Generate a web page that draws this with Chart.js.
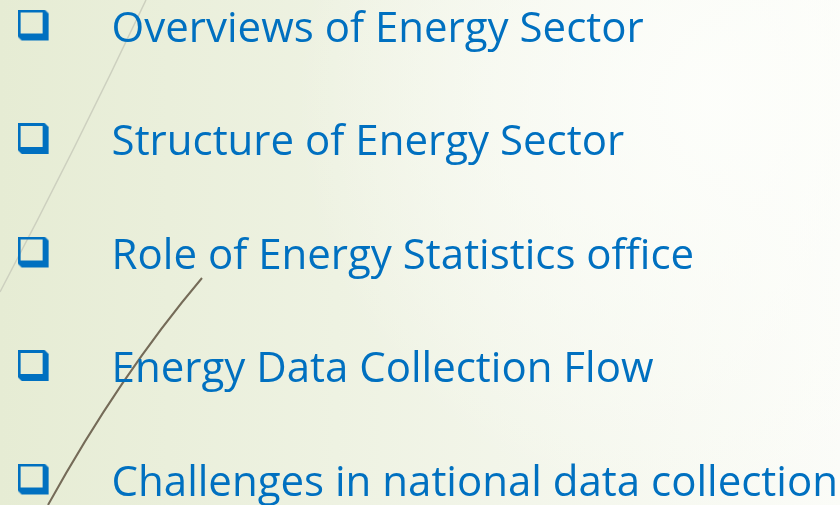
<!DOCTYPE html>
<html lang="en">
<head>
    <meta charset="UTF-8">
    <title>energy topics</title>
    <style>
        html, body {
            margin: 0;
            padding: 0;
            background: #f4f7ec;
        }
        #wrap {
            width: 840px;
            height: 505px;
        }
    </style>
</head>
<body>
    <div id="wrap">
        <canvas id="myChart" width="840" height="505"></canvas>
    </div>

    <script src="https://cdn.jsdelivr.net/npm/chart.js"></script>
    <script>
        // slide items (top to bottom)
        let topics = [
            'Overviews of Energy Sector',
            'Structure of Energy Sector',
            'Role of Energy Statistics office',
            'Energy Data Collection Flow',
            'Challenges in national data collection'
        ];
        // indent level of every bullet
        let level = [1, 1, 1, 1, 1];

        let blue = '#0070c0';

        // the 3D checkbox bullet
        let box = document.createElement('canvas');
        box.width = 32;
        box.height = 32;
        let b = box.getContext('2d');
        b.fillStyle = blue;
        b.beginPath();
        b.moveTo(0, 0);
        b.lineTo(27, 0);
        b.lineTo(31, 4);
        b.lineTo(31, 31);
        b.lineTo(4, 31);
        b.lineTo(0, 27);
        b.closePath();
        b.rect(3, 3, 22, 21);
        b.fill('evenodd');

        // background and the two thin swooshes
        let slideBg = {
            id: 'slideBg',
            beforeDraw(chart) {
                let c = chart.ctx;
                let w = chart.width, h = chart.height;
                c.save();
                let g = c.createLinearGradient(0, 0, w, 0);
                g.addColorStop(0, '#e6ecd4');
                g.addColorStop(0.4, '#eef2e2');
                g.addColorStop(1, '#fbfcf8');
                c.fillStyle = g;
                c.fillRect(0, 0, w, h);

                let r = c.createRadialGradient(w * 0.85, h * 0.2, 10, w * 0.85, h * 0.2, w * 0.5);
                r.addColorStop(0, 'rgba(253,254,251,0.9)');
                r.addColorStop(1, 'rgba(253,254,251,0)');
                c.fillStyle = r;
                c.fillRect(0, 0, w, h);

                c.strokeStyle = '#cdd0bf';
                c.lineWidth = 1.5;
                c.beginPath();
                c.moveTo(146, 0);
                c.quadraticCurveTo(75, 150, 0, 292);
                c.stroke();

                c.strokeStyle = '#756b58';
                c.lineWidth = 2;
                c.beginPath();
                c.moveTo(202, 278);
                c.quadraticCurveTo(120, 375, 48, 505);
                c.stroke();
                c.restore();
            }
        };

        // text next to each bullet
        let itemText = {
            id: 'itemText',
            afterDatasetsDraw(chart) {
                let c = chart.ctx;
                let pts = chart.getDatasetMeta(0).data;
                c.save();
                c.fillStyle = blue;
                c.font = '42px "Open Sans"';
                c.textAlign = 'left';
                c.textBaseline = 'alphabetic';
                for (let i = 0; i < pts.length; i++) {
                    c.fillText(chart.data.labels[i], pts[i].x + 78, pts[i].y + 16);
                }
                c.restore();
            }
        };

        let ctx = document.getElementById('myChart');
        let myChart = new Chart(ctx, {
            type: 'line',
            data: {
                labels: topics,
                datasets: [{
                    data: level,
                    showLine: false,
                    pointStyle: box,
                    pointRadius: 16
                }]
            },
            options: {
                indexAxis: 'y',
                responsive: false,
                animation: false,
                events: [],
                layout: {
                    autoPadding: false,
                    padding: { top: 25.5, bottom: 25.5, left: 0, right: 0 }
                },
                plugins: {
                    legend: { display: false },
                    tooltip: { enabled: false }
                },
                scales: {
                    x: { type: 'linear', min: 0, max: 25, display: false },
                    y: { type: 'category', offset: false, display: false }
                }
            },
            plugins: [slideBg, itemText]
        });
    </script>
</body>
</html>
